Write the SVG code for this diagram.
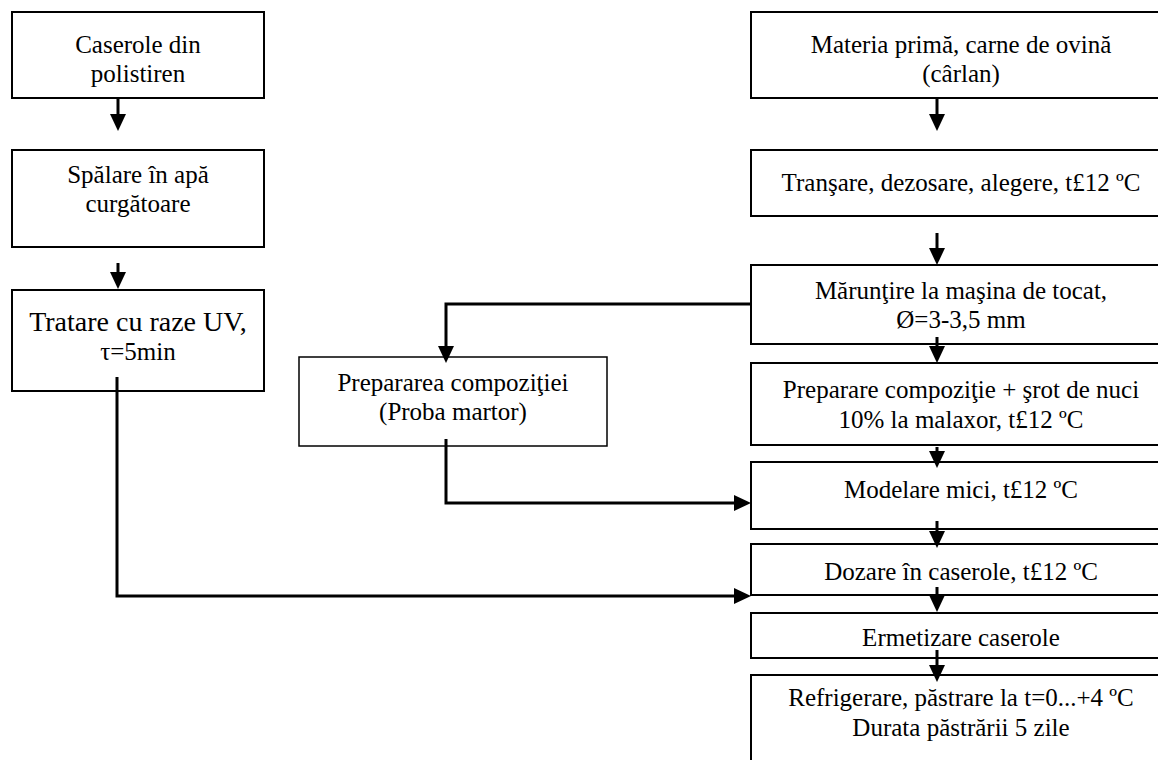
<svg xmlns="http://www.w3.org/2000/svg" width="1158" height="760" viewBox="0 0 1158 760">
<defs>
<style>
.box{fill:#fff;stroke:#000;stroke-width:2}
.thin{stroke-width:1.5}
.t text{font-family:'Liberation Serif','Times New Roman','DejaVu Serif',serif;font-size:25px;fill:#000;text-anchor:middle}
.t text.big{font-size:28px}
.c{fill:none;stroke:#000;stroke-width:3;marker-end:url(#ah)}
</style>
<marker id="ah" markerUnits="userSpaceOnUse" markerWidth="17" markerHeight="16" viewBox="0 -8 17 16" refX="11" refY="0" orient="auto">
<path d="M0,-8 L17,0 L0,8 z" fill="#000"/>
</marker>
</defs>
<rect width="1158" height="760" fill="#fff"/>
<g class="t">
<g id="n1"><rect class="box" x="12" y="12" width="252" height="86"/><text x="138" y="53">Caserole din</text><text x="138" y="82">polistiren</text></g>
<g id="n2"><rect class="box" x="12" y="150" width="252" height="97"/><text x="138" y="183">Spălare în apă</text><text x="138" y="212">curgătoare</text></g>
<g id="n3"><rect class="box" x="12" y="290" width="252" height="101"/><text class="big" x="138" y="331">Tratare cu raze UV,</text><text x="138" y="360">τ=5min</text></g>
<g id="r1"><rect class="box" x="751" y="12" width="420" height="86"/><text x="961" y="53">Materia primă, carne de ovină</text><text x="961" y="82">(cârlan)</text></g>
<g id="r2"><rect class="box" x="751" y="150" width="420" height="66"/><text x="961" y="191">Tranşare, dezosare, alegere, t£12 ºC</text></g>
<g id="r3"><rect class="box" x="751" y="265" width="420" height="79"/><text x="961" y="299">Mărunţire la maşina de tocat,</text><text x="961" y="328">Ø=3-3,5 mm</text></g>
<g id="r4"><rect class="box" x="751" y="363" width="420" height="82"/><text x="961" y="398">Preparare compoziţie + şrot de nuci</text><text x="961" y="428">10% la malaxor, t£12 ºC</text></g>
<g id="r5"><rect class="box" x="751" y="462" width="420" height="67"/><text x="961" y="498">Modelare mici, t£12 ºC</text></g>
<g id="r6"><rect class="box" x="751" y="544" width="420" height="51"/><text x="961" y="580">Dozare în caserole, t£12 ºC</text></g>
<g id="r7"><rect class="box" x="751" y="613" width="420" height="45"/><text x="961" y="646">Ermetizare caserole</text></g>
<g id="r8"><rect class="box" x="751" y="675" width="420" height="100"/><text x="961" y="706">Refrigerare, păstrare la t=0...+4 ºC</text><text x="961" y="736">Durata păstrării 5 zile</text></g>
<g id="p1"><rect class="box thin" x="299" y="357" width="308" height="89"/><text x="453" y="391">Prepararea compoziţiei</text><text x="453" y="420">(Proba martor)</text></g>
</g>
<g id="connectors">
<path class="c" d="M118,98 V125"/>
<path class="c" d="M118,263 V283"/>
<path class="c" d="M937,98 V125"/>
<path class="c" d="M937,233 V259"/>
<path class="c" d="M937,337 V357"/>
<path class="c" d="M937,447 V462"/>
<path class="c" d="M937,521 V542"/>
<path class="c" d="M937,587 V606"/>
<path class="c" d="M937,650 V676"/>
<path class="c" d="M751,304 H446 V357"/>
<path class="c" d="M446,439 V503 H745"/>
<path class="c" d="M117,377 V596 H745"/>
</g>
</svg>
